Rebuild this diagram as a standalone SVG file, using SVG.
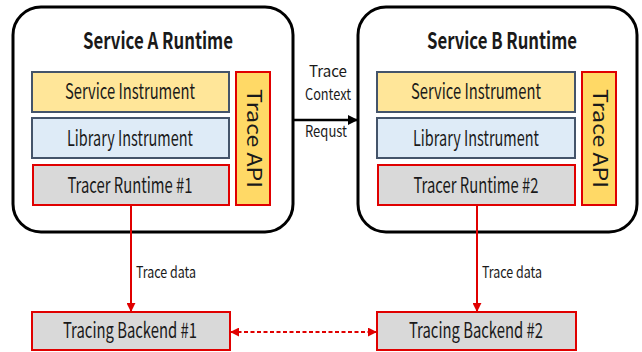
<svg xmlns="http://www.w3.org/2000/svg" width="642" height="352" viewBox="0 0 642 352">
  <defs>
    <marker id="arrowBlack" viewBox="0 0 10 10" refX="9" refY="5" markerWidth="4" markerHeight="4" orient="auto-start-reverse">
      <path d="M0,0 L10,5 L0,10 z" fill="#000000"/>
    </marker>
    <marker id="arrowRed" viewBox="0 0 10 10" refX="9" refY="5" markerWidth="4.5" markerHeight="4.5" orient="auto-start-reverse">
      <path d="M0,0 L10,5 L0,10 z" fill="#E00000"/>
    </marker>
  </defs>
  <style>
    text { font-family: "Noto Sans CJK KR", "Noto Sans", "Liberation Sans", sans-serif; fill: #1a1a1a; }
    .runtime { fill: #ffffff; stroke: #000000; stroke-width: 3; }
    .title { font-size: 23px; font-weight: bold; text-anchor: middle; }
    .svc { fill: #FFE699; stroke: #44546A; stroke-width: 2; }
    .lib { fill: #DEEBF7; stroke: #44546A; stroke-width: 2; }
    .tracer { fill: #D9D9D9; stroke: #E00000; stroke-width: 2; }
    .api { fill: #FFD966; stroke: #E00000; stroke-width: 2; }
    .backend { fill: #D9D9D9; stroke: #E00000; stroke-width: 2; }
    .label { font-size: 21px; text-anchor: middle; }
    .apilabel { font-size: 20px; text-anchor: middle; }
    .note { font-size: 15.5px; }
    .red { stroke: #E00000; stroke-width: 2; fill: none; }
  </style>

  <!-- Service A -->
  <g id="service-a">
    <rect class="runtime" x="13" y="7" width="280" height="225" rx="28" ry="28"/>
    <text class="title" x="158" y="49" textLength="150" lengthAdjust="spacingAndGlyphs">Service A Runtime</text>
    <g id="a-service-instrument">
      <rect class="svc" x="32" y="72" width="197" height="40"/>
      <text class="label" x="130" y="99" textLength="130" lengthAdjust="spacingAndGlyphs">Service Instrument</text>
    </g>
    <g id="a-library-instrument">
      <rect class="lib" x="32" y="118" width="197" height="40"/>
      <text class="label" x="130" y="146" textLength="126" lengthAdjust="spacingAndGlyphs">Library Instrument</text>
    </g>
    <g id="a-tracer-runtime">
      <rect class="tracer" x="33" y="165" width="196" height="40"/>
      <text class="label" x="130" y="193" textLength="125" lengthAdjust="spacingAndGlyphs">Tracer Runtime #1</text>
    </g>
    <g id="a-trace-api">
      <rect class="api" x="236" y="72" width="34" height="133"/>
      <text class="apilabel" transform="translate(246.5 138.5) rotate(90)" x="0" y="0" textLength="99" lengthAdjust="spacingAndGlyphs">Trace API</text>
    </g>
  </g>

  <!-- Service B -->
  <g id="service-b">
    <rect class="runtime" x="358" y="7" width="279" height="225" rx="28" ry="28"/>
    <text class="title" x="502" y="49" textLength="150" lengthAdjust="spacingAndGlyphs">Service B Runtime</text>
    <g id="b-service-instrument">
      <rect class="svc" x="377" y="72" width="198" height="40"/>
      <text class="label" x="476" y="99" textLength="130" lengthAdjust="spacingAndGlyphs">Service Instrument</text>
    </g>
    <g id="b-library-instrument">
      <rect class="lib" x="377" y="118" width="198" height="40"/>
      <text class="label" x="476" y="146" textLength="126" lengthAdjust="spacingAndGlyphs">Library Instrument</text>
    </g>
    <g id="b-tracer-runtime">
      <rect class="tracer" x="378" y="165" width="197" height="40"/>
      <text class="label" x="476" y="193" textLength="125" lengthAdjust="spacingAndGlyphs">Tracer Runtime #2</text>
    </g>
    <g id="b-trace-api">
      <rect class="api" x="582" y="72" width="34" height="133"/>
      <text class="apilabel" transform="translate(592.5 138.5) rotate(90)" x="0" y="0" textLength="99" lengthAdjust="spacingAndGlyphs">Trace API</text>
    </g>
  </g>

  <!-- Backends -->
  <g id="backend-1">
    <rect class="backend" x="32" y="312" width="198" height="38"/>
    <text class="label" x="130" y="338" textLength="134" lengthAdjust="spacingAndGlyphs">Tracing Backend #1</text>
  </g>
  <g id="backend-2">
    <rect class="backend" x="377" y="312" width="199" height="38"/>
    <text class="label" x="476" y="338" textLength="134" lengthAdjust="spacingAndGlyphs">Tracing Backend #2</text>
  </g>

  <!-- Connectors -->
  <g id="connectors">
    <line x1="293" y1="120" x2="357" y2="120" stroke="#000000" stroke-width="2.5" marker-end="url(#arrowBlack)"/>
    <text class="note" x="328" y="77" text-anchor="middle" textLength="38" lengthAdjust="spacingAndGlyphs">Trace</text>
    <text class="note" x="328" y="100" text-anchor="middle" textLength="46" lengthAdjust="spacingAndGlyphs">Context</text>
    <text class="note" x="326" y="137" text-anchor="middle" textLength="42" lengthAdjust="spacingAndGlyphs">Requst</text>

    <line class="red" x1="131" y1="205" x2="131" y2="311" marker-end="url(#arrowRed)"/>
    <text class="note" x="136" y="278" textLength="60" lengthAdjust="spacingAndGlyphs">Trace data</text>

    <line class="red" x1="477" y1="205" x2="477" y2="311" marker-end="url(#arrowRed)"/>
    <text class="note" x="482" y="278" textLength="60" lengthAdjust="spacingAndGlyphs">Trace data</text>

    <line class="red" x1="231" y1="332" x2="376" y2="332" stroke-dasharray="4 2.5" marker-start="url(#arrowRed)" marker-end="url(#arrowRed)"/>
  </g>
</svg>
